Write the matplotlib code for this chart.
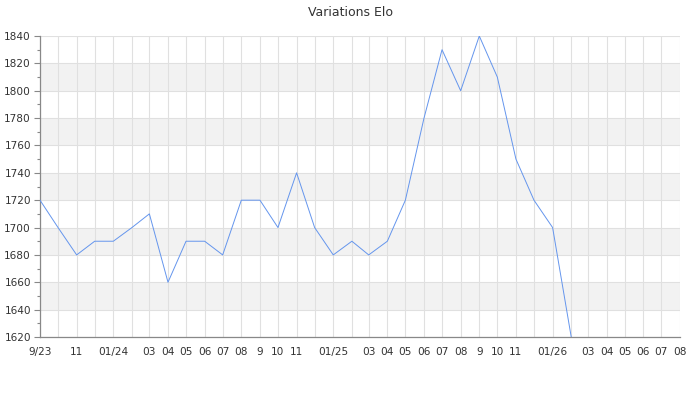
import matplotlib
matplotlib.use('Agg')
import matplotlib.pyplot as plt
import matplotlib.dates as mdates
import pandas as pd
from matplotlib.ticker import MultipleLocator

# =============================================================================
# Variations Elo
# =============================================================================

MONTHS = pd.date_range('2023-09-01', '2026-02-01', freq='MS')
ELO = [1720, 1700, 1680, 1690, 1690, 1700, 1710, 1660, 1690, 1690,
       1680, 1720, 1720, 1700, 1740, 1700, 1680, 1690, 1680, 1690,
       1720, 1780, 1830, 1800, 1840, 1810, 1750, 1720, 1700, 1620]

TICK_DATES = pd.date_range('2023-09-01', '2026-08-01', freq='MS')
TICK_LABELS = ['9/23', '', '11', '', '01/24', '', '03', '04', '05', '06',
               '07', '08', '9', '10', '11', '', '01/25', '', '03', '04',
               '05', '06', '07', '08', '9', '10', '11', '', '01/26', '',
               '03', '04', '05', '06', '07', '08']

Y_MIN, Y_MAX = 1620, 1840
TEXT = '#333333'

fig = plt.figure(figsize=(7, 4), dpi=100)
ax = fig.add_axes([40 / 700, 1 - 337 / 400, 640 / 700, 301 / 400])

for lo in range(Y_MIN + 20, Y_MAX, 40):
    ax.axhspan(lo, lo + 20, color='#f2f2f2', zorder=0, linewidth=0)

ax.plot(MONTHS, ELO, color='#6495ed', linewidth=0.7, zorder=3)

ax.set_xlim(TICK_DATES[0], TICK_DATES[-1])
ax.set_ylim(Y_MIN, Y_MAX)
ax.set_xticks(TICK_DATES)
ax.set_xticklabels(TICK_LABELS)
ax.yaxis.set_major_locator(MultipleLocator(20))
ax.yaxis.set_minor_locator(MultipleLocator(10))

ax.grid(True, which='major', color='#e0e0e0', linewidth=0.8, zorder=1)
ax.set_axisbelow(True)

ax.tick_params(axis='x', length=0, pad=7, labelsize=7.6, labelcolor=TEXT)
ax.tick_params(axis='y', which='major', length=4, width=0.8, color='#888888',
               pad=2.5, labelsize=7.6, labelcolor=TEXT)
ax.tick_params(axis='y', which='minor', length=2.2, width=0.8, color='#888888')

for side in ('top', 'right'):
    ax.spines[side].set_visible(False)
for side in ('left', 'bottom'):
    ax.spines[side].set_color('#888888')
    ax.spines[side].set_linewidth(0.9)

fig.text(350 / 700, 1 - 12 / 400, 'Variations Elo', ha='center', va='center',
         fontsize=9, color=TEXT)

fig.savefig('out.png', dpi=100)
